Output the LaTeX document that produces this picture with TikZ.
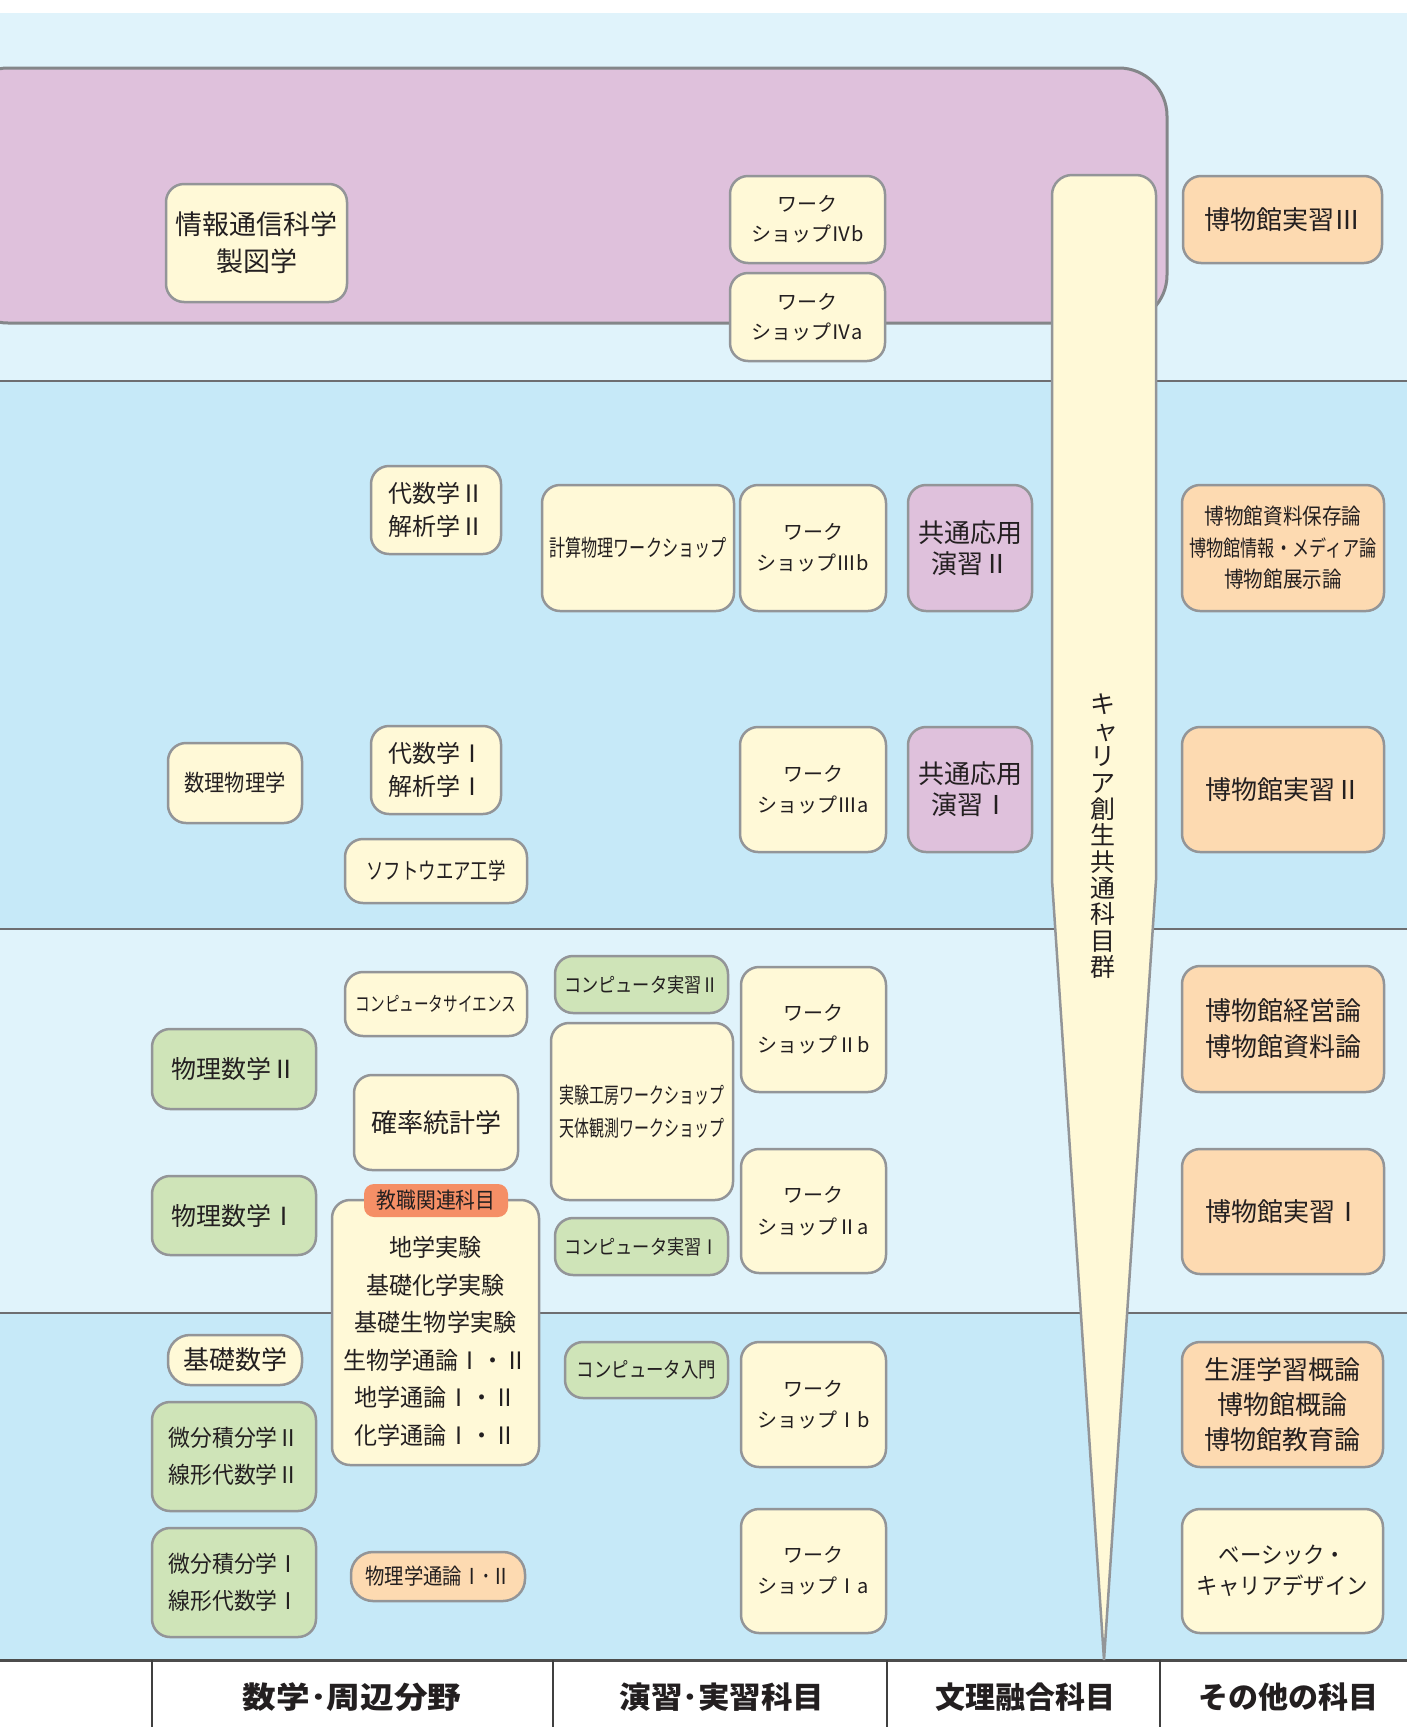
\documentclass[tikz,border=0pt]{standalone}
\usepackage{fontspec}
\setmainfont{Noto Sans CJK JP}
\usepackage{graphicx}
\definecolor{bandlight}{HTML}{E0F3FB}
\definecolor{bandmid}{HTML}{C6E9F8}
\definecolor{boxpurple}{HTML}{DFC1DC}
\definecolor{boxyellow}{HTML}{FFF9D7}
\definecolor{boxgreen}{HTML}{CFE4B8}
\definecolor{boxorange}{HTML}{FDDAB1}
\definecolor{tagorange}{HTML}{F58F66}
\definecolor{bordergray}{HTML}{939598}
\definecolor{linegray}{HTML}{6D6E71}
\definecolor{txt}{HTML}{231F20}
\newcommand\hs[2]{\scalebox{#1}[1]{#2}}
\newcommand\fsz[2]{\fontsize{#1}{#2}\selectfont}
\begin{document}
\begin{tikzpicture}[x=1pt,y=-1pt,
  box/.style={draw=bordergray, line width=2.5pt, rounded corners=18pt, inner sep=0pt, align=center, text=txt},
  ybox/.style={box, fill=boxyellow},
  gbox/.style={box, fill=boxgreen},
  obox/.style={box, fill=boxorange},
  pbox/.style={box, fill=boxpurple},
  sz/.style n args={2}{minimum width=#1pt, minimum height=#2pt},
  band/.style={linegray, line width=2.5pt},
  head/.style={font=\bfseries\fsz{30}{30}, text=txt, inner sep=0pt},
  vline/.style={draw=black!75, line width=1.5pt}]
\useasboundingbox (0,0) rectangle (1407,1727);
\clip (0,0) rectangle (1407,1727);
% bands
\fill[white] (0,0) rectangle (1407,13);
\fill[bandlight] (0,13) rectangle (1407,381);
\fill[bandmid] (0,381) rectangle (1407,929);
\fill[bandlight] (0,929) rectangle (1407,1313);
\fill[bandmid] (0,1313) rectangle (1407,1660);
\fill[white] (0,1660) rectangle (1407,1727);
\draw[band] (0,381) -- (1407,381);
\draw[band] (0,929) -- (1407,929);
\draw[band] (0,1313) -- (1407,1313);
\draw[black!70, line width=3pt] (0,1660) -- (1407,1660);
% header
\coordinate (h0) at (152,1660); \coordinate (h0b) at (152,1727);
\coordinate (h1) at (553,1660); \coordinate (h1b) at (553,1727);
\coordinate (h2) at (887,1660); \coordinate (h2b) at (887,1727);
\coordinate (h3) at (1160,1660); \coordinate (h3b) at (1160,1727);
\draw[vline] (h0) -- (h0b);
\draw[vline] (h1) -- (h1b);
\draw[vline] (h2) -- (h2b);
\draw[vline] (h3) -- (h3b);
\node[head] (hd1) at (352,1697) {\hs{1.12}{数学･周辺分野}};
\node[head] (hd2) at (722,1697) {\hs{1.05}{演習･実習科目}};
\node[head] (hd3) at (1025,1697) {文理融合科目};
\node[head] (hd4) at (1288,1697) {その他の科目};
% purple region
\draw[fill=boxpurple, draw=bordergray!90!black, line width=3pt, rounded corners=48pt] (-40,68) rectangle (1167,323);
% career column
\draw[fill=boxyellow, draw=bordergray, line width=2.5pt]
  (1052,880) -- (1052,195) arc[start angle=180, end angle=270, radius=20]
  -- (1136,175) arc[start angle=270, end angle=360, radius=20]
  -- (1156,880) -- (1104,1660) -- cycle;
\node[font=\fsz{25}{26.3}, align=center, text=txt, inner sep=0pt] (career) at (1103,836)
  {キ\\\hspace*{5pt}ャ\\リ\\ア\\創\\生\\共\\通\\科\\目\\群};
% top band
\node[ybox, sz={181}{118}, font=\fsz{27}{37}] (info) at (256.5,243) {情報通信科学\\製図学};
\node[ybox, sz={155}{87}, font=\fsz{20}{30}] (ws4b) at (807.5,219.5) {ワーク\\ショップⅣb};
\node[ybox, sz={155}{88}, font=\fsz{20}{30}] (ws4a) at (807.5,317) {ワーク\\ショップⅣa};
\node[obox, sz={199}{87}, font=\fsz{26}{30}] (mus3) at (1282.5,219.5) {博物館実習Ⅲ};
% band 2
\node[ybox, sz={130}{88}, font=\fsz{24}{33}] (alg2) at (436,510) {代数学Ⅱ\\解析学Ⅱ};
\node[ybox, sz={192}{126}, font=\fsz{23}{30}] (keisan) at (638,548) {\hs{0.7}{計算物理ワークショップ}};
\node[ybox, sz={146}{126}, font=\fsz{20}{31}] (ws3b) at (813,548) {ワーク\\ショップⅢb};
\node[pbox, sz={124}{126}, font=\fsz{26}{31}] (kyo2) at (970,548) {共通応用\\演習Ⅱ};
\node[obox, sz={202}{126}, font=\fsz{22}{31.5}] (mushozon) at (1283,548)
  {\hs{0.89}{博物館資料保存論}\\\hs{0.78}{博物館情報・メディア論}\\\hs{0.89}{博物館展示論}};
\node[ybox, sz={134}{80}, font=\fsz{23}{30}] (suri) at (235,783) {\hs{0.88}{数理物理学}};
\node[ybox, sz={130}{88}, font=\fsz{24}{33}] (alg1) at (436,770) {代数学Ⅰ\\解析学Ⅰ};
\node[ybox, sz={182}{64}, font=\fsz{23}{30}] (soft) at (436,871) {\hs{0.76}{ソフトウエア工学}};
\node[ybox, sz={146}{125}, font=\fsz{20}{31}] (ws3a) at (813,789.5) {ワーク\\ショップⅢa};
\node[pbox, sz={124}{125}, font=\fsz{26}{31}] (kyo1) at (970,789.5) {共通応用\\演習Ⅰ};
\node[obox, sz={202}{125}, font=\fsz{26}{30}] (mus2) at (1283,789.5) {博物館実習Ⅱ};
% band 3
\node[ybox, sz={182}{64}, font=\fsz{20}{30}] (compsci) at (436,1004) {\hs{0.73}{コンピュータサイエンス}};
\node[gbox, sz={164}{80}, font=\fsz{25}{30}] (butsu2) at (234,1069) {物理数学Ⅱ};
\node[ybox, sz={164}{95}, font=\fsz{26}{30}] (kakuritsu) at (436,1122.5) {確率統計学};
\node[gbox, sz={164}{79}, font=\fsz{25}{30}] (butsu1) at (234,1215.5) {物理数学Ⅰ};
\node[ybox, sz={207}{265}] (kyoshoku) at (435.5,1332.5) {};
\node[fill=tagorange, rounded corners=10pt, inner sep=0pt, sz={144}{33}, font=\fsz{22}{26}, text=txt] (tag) at (436,1200.5) {\hs{0.9}{教職関連科目}};
\node[font=\fsz{24}{37.5}, align=center, text=txt, inner sep=0pt] (kyotext) at (435.5,1341.5)
  {\hs{0.96}{地学実験}\\\hs{0.96}{基礎化学実験}\\\hs{0.96}{基礎生物学実験}\\\hs{0.96}{生物学通論Ⅰ・Ⅱ}\\\hs{0.96}{地学通論Ⅰ・Ⅱ}\\\hs{0.96}{化学通論Ⅰ・Ⅱ}};
\node[gbox, sz={173}{57}, font=\fsz{20}{30}] (comp2) at (641.5,984.5) {\hs{0.86}{コンピュータ実習Ⅱ}};
\node[ybox, sz={182}{177}, font=\fsz{22}{33}] (jikken) at (642,1111.5) {\hs{0.68}{実験工房ワークショップ}\\\hs{0.68}{天体観測ワークショップ}};
\node[gbox, sz={173}{57}, font=\fsz{20}{30}] (comp1) at (641.5,1246.5) {\hs{0.86}{コンピュータ実習Ⅰ}};
\node[ybox, sz={145}{125}, font=\fsz{20}{32}] (ws2b) at (813.5,1029.5) {ワーク\\ショップⅡb};
\node[ybox, sz={145}{124}, font=\fsz{20}{32}] (ws2a) at (813.5,1211) {ワーク\\ショップⅡa};
\node[obox, sz={202}{126}, font=\fsz{26}{36}] (muskeiei) at (1283,1029) {博物館経営論\\博物館資料論};
\node[obox, sz={202}{125}, font=\fsz{26}{30}] (mus1) at (1283,1211.5) {博物館実習Ⅰ};
% band 4
\node[ybox, sz={134}{50}, font=\fsz{26}{30}, rounded corners=22pt] (kiso) at (235,1360) {基礎数学};
\node[gbox, sz={164}{109}, font=\fsz{23}{37}] (bibun2) at (234,1456.5) {\hs{0.95}{微分積分学Ⅱ}\\\hs{0.95}{線形代数学Ⅱ}};
\node[gbox, sz={164}{109}, font=\fsz{23}{37}] (bibun1) at (234,1582.5) {\hs{0.95}{微分積分学Ⅰ}\\\hs{0.95}{線形代数学Ⅰ}};
\node[obox, sz={174}{49}, font=\fsz{22}{30}, rounded corners=22pt] (tsuron) at (438,1576.5) {\hs{0.88}{物理学通論Ⅰ･Ⅱ}};
\node[gbox, sz={163}{56}, font=\fsz{21}{30}] (compintro) at (646.5,1370) {\hs{0.83}{コンピュータ入門}};
\node[ybox, sz={145}{125}, font=\fsz{20}{31}] (ws1b) at (813.5,1404.5) {ワーク\\ショップⅠb};
\node[ybox, sz={145}{124}, font=\fsz{20}{31}] (ws1a) at (813.5,1571) {ワーク\\ショップⅠa};
\node[obox, sz={201}{125}, font=\fsz{26}{35}] (shogai) at (1282.5,1404.5) {生涯学習概論\\博物館概論\\博物館教育論};
\node[ybox, sz={201}{124}, font=\fsz{23}{31}] (basic) at (1282.5,1571) {\hs{0.93}{ベーシック・}\\\hs{0.93}{キャリアデザイン}};
\end{tikzpicture}
\end{document}
